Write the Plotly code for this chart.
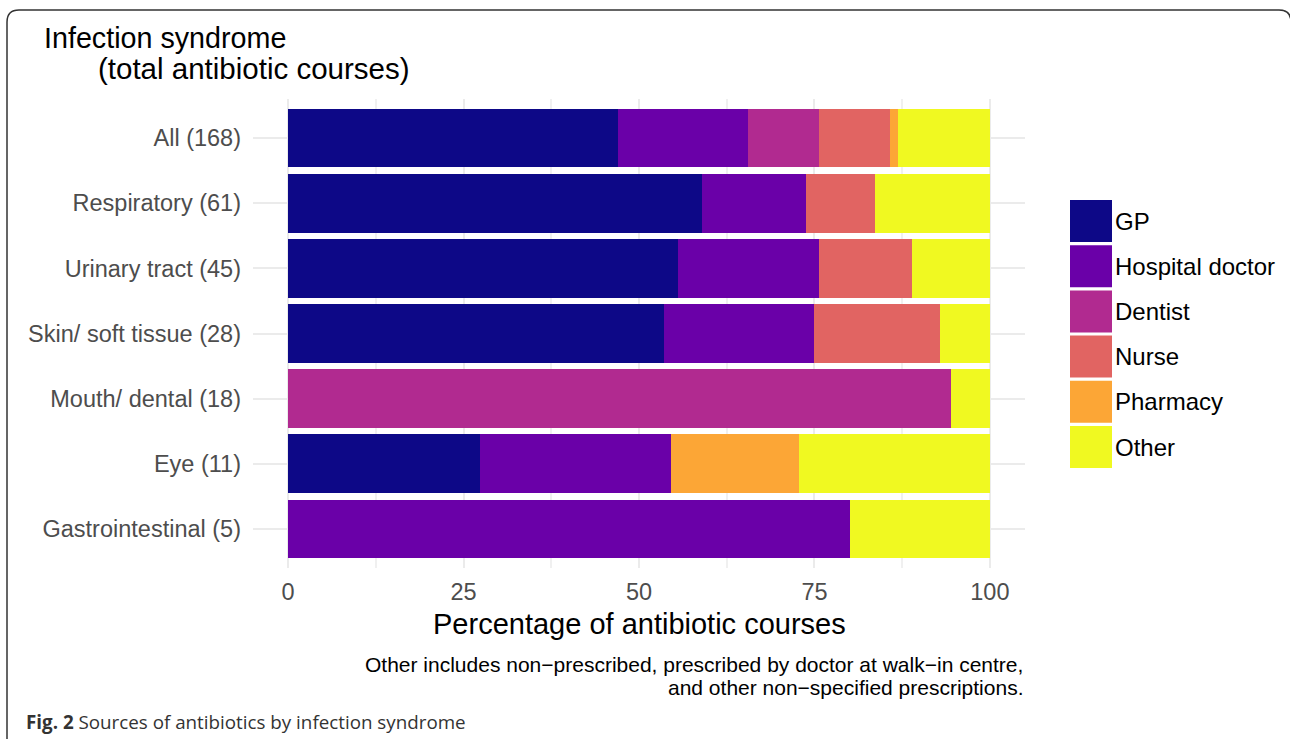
import plotly.graph_objects as go

# ---------------- data ----------------
categories = ["All (168)", "Respiratory (61)", "Urinary tract (45)", "Skin/ soft tissue (28)",
              "Mouth/ dental (18)", "Eye (11)", "Gastrointestinal (5)"]
sources = ["GP", "Hospital doctor", "Dentist", "Nurse", "Pharmacy", "Other"]

gp       = [47.0, 59.0, 55.6, 53.6, 0.0, 27.3, 0.0]
hospital = [18.5, 14.8, 20.0, 21.4, 0.0, 27.3, 80.0]
dentist  = [10.1, 0.0, 0.0, 0.0, 94.4, 0.0, 0.0]
nurse    = [10.1, 9.8, 13.3, 17.9, 0.0, 0.0, 0.0]
pharmacy = [1.2, 0.0, 0.0, 0.0, 0.0, 18.2, 0.0]
other    = [13.1, 16.4, 11.1, 7.1, 5.6, 27.2, 20.0]

x_ticks = [0, 25, 50, 75, 100]
x_tick_labels = ["0", "25", "50", "75", "100"]

series = [gp, hospital, dentist, nurse, pharmacy, other]
colors = ["#0d0887", "#6a00a8", "#b12a90", "#e16462", "#fca636", "#f0f921"]

# ---------------- layout geometry (pixels) ----------------
FW, FH = 1290, 739
L, R, T, B = 253, 1025, 99, 568
W, H = R - L, B - T


def px(x):
    return (x - L) / W


def py(y):
    return (B - y) / H


FONT = "Liberation Sans, Arial, Helvetica, sans-serif"

fig = go.Figure()
for name, vals, col in zip(sources, series, colors):
    fig.add_trace(go.Bar(
        y=categories, x=vals, name=name, orientation="h",
        marker=dict(color=col, line=dict(width=0)),
        showlegend=False,
    ))

fig.update_layout(
    width=FW, height=FH,
    barmode="stack", bargap=0.1,
    plot_bgcolor="white", paper_bgcolor="white",
    margin=dict(l=L, r=FW - R, t=T, b=FH - B, autoexpand=False),
    font=dict(family=FONT, color="#4d4d4d"),
    xaxis=dict(
        range=[-5, 105], tickvals=x_ticks, ticktext=x_tick_labels,
        showgrid=True, gridcolor="#ebebeb", gridwidth=2,
        zeroline=False, showline=False, ticks="",
        tickfont=dict(size=23.5, color="#4d4d4d"),
        ticklabelstandoff=7,
        minor=dict(dtick=12.5, tick0=0, showgrid=True, gridcolor="#f0f0f0", gridwidth=1.5),
    ),
    yaxis=dict(
        type="category", categoryorder="array", categoryarray=categories,
        range=[6.6, -0.6],
        showgrid=True, gridcolor="#ebebeb", gridwidth=2,
        zeroline=False, showline=False, ticks="",
        tickfont=dict(size=23.5, color="#4d4d4d"),
        ticklabelstandoff=11,
    ),
)

annotations = []
# y-axis title (top-left)
annotations.append(dict(x=px(42), y=py(38), xref="paper", yref="paper", xanchor="left", yanchor="middle",
                        text="Infection syndrome", showarrow=False,
                        font=dict(size=28.7, color="black", family=FONT)))
annotations.append(dict(x=px(96), y=py(69), xref="paper", yref="paper", xanchor="left", yanchor="middle",
                        text="(total antibiotic courses)", showarrow=False,
                        font=dict(size=29.5, color="black", family=FONT)))
# x-axis title
annotations.append(dict(x=px(639), y=py(624), xref="paper", yref="paper", xanchor="center", yanchor="middle",
                        text="Percentage of antibiotic courses", showarrow=False,
                        font=dict(size=29, color="black", family=FONT)))
# caption
annotations.append(dict(x=px(1025), y=py(664), xref="paper", yref="paper", xanchor="right", yanchor="middle",
                        text="Other includes non\u2212prescribed, prescribed by doctor at walk\u2212in centre,",
                        showarrow=False, font=dict(size=21, color="black", family=FONT)))
annotations.append(dict(x=px(1025), y=py(687), xref="paper", yref="paper", xanchor="right", yanchor="middle",
                        text="and other non\u2212specified prescriptions.",
                        showarrow=False, font=dict(size=21, color="black", family=FONT)))
# figure caption
annotations.append(dict(x=px(24), y=py(722), xref="paper", yref="paper", xanchor="left", yanchor="middle",
                        text="<b>Fig. 2</b> Sources of antibiotics by infection syndrome",
                        showarrow=False, font=dict(size=18.8, color="#333333", family="Open Sans, sans-serif")))

shapes = []
# manual legend
key_x0, key_x1 = 1070, 1112
top0, step, keyh = 200, 45.2, 42
for i, (name, col) in enumerate(zip(sources, colors)):
    t = top0 + i * step
    shapes.append(dict(type="rect", xref="paper", yref="paper",
                       x0=px(key_x0), x1=px(key_x1), y0=py(t + keyh), y1=py(t),
                       fillcolor=col, line=dict(width=0)))
    annotations.append(dict(x=px(1113), y=py(t + keyh / 2), xref="paper", yref="paper",
                            xanchor="left", yanchor="middle", text=name, showarrow=False,
                            font=dict(size=24, color="black", family=FONT)))

# rounded frame around the figure
def P(x, y):
    return f"{px(x):.5f},{py(y):.5f}"

frame = (f"M {P(7, 745)} L {P(7, 22)} Q {P(7, 10)} {P(19, 10)} "
         f"L {P(1279, 10)} Q {P(1291, 10)} {P(1291, 22)} L {P(1291, 745)}")
shapes.append(dict(type="path", xref="paper", yref="paper", path=frame,
                   line=dict(color="#333333", width=1.5)))

fig.update_layout(annotations=annotations, shapes=shapes)

fig.write_html("out.html", config={"displayModeBar": False},
               post_script="document.body.style.margin='0px';")
